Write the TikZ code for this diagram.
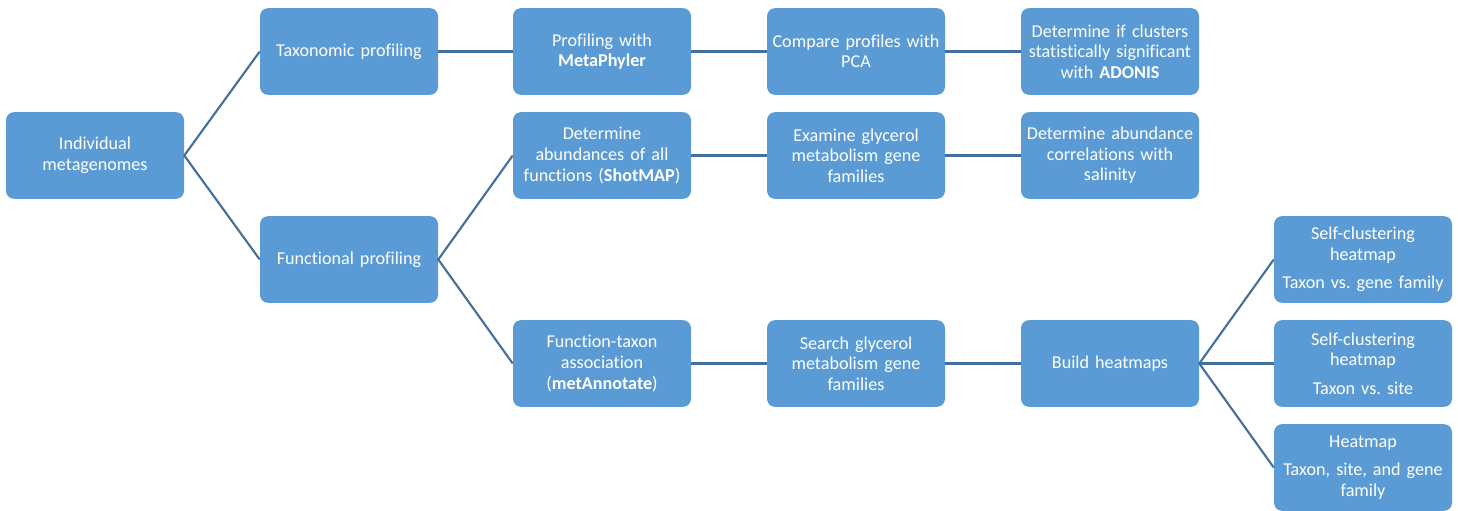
\documentclass[tikz,border=0pt]{standalone}
\usepackage{fontspec}
\setmainfont[Ligatures=NoCommon]{Carlito}
\usepackage{tikz}

\definecolor{boxblue}{HTML}{5B9BD5}
\definecolor{linkblue}{HTML}{41719C}

\begin{document}
\frenchspacing
\begin{tikzpicture}[x=0.75pt,y=-0.75pt,
    stage/.style={draw=none,fill=boxblue,rounded corners=6pt,text=white,
        minimum width=133.5pt,minimum height=65pt,text width=130pt,
        align=center,inner sep=1pt,font=\fontsize{13.6}{15.4}\selectfont},
    link/.style={draw=linkblue,line width=1.6pt}]
    \useasboundingbox (0,0) rectangle (1458,510);
    % first two columns
    \node[stage] (meta) at (95,155.5) {Individual\\metagenomes};
    \node[stage] (taxo) at (349,51.5) {Taxonomic profiling};
    \node[stage] (func) at (349,259.5) {Functional profiling};
    % taxonomic branch
    \node[stage] (phyl) at (602,51.5) {Profiling with\\\textbf{MetaPhyler}};
    \node[stage] (pca) at (856,51.5) {Compare profiles with\\PCA};
    \node[stage] (adon) at (1110,51.5) {Determine if clusters\\statistically significant\\with \textbf{ADONIS}};
    % functional branch
    \node[stage] (shot) at (602,155.5) {Determine\\abundances of all\\functions (\textbf{ShotMAP})};
    \node[stage] (glyc) at (856,155.5) {Examine glycerol\\metabolism gene\\families};
    \node[stage] (sali) at (1110,155.5) {Determine abundance\\correlations with\\salinity};
    \node[stage] (anno) at (602,363.5) {Function-taxon\\association\\(\textbf{metAnnotate})};
    \node[stage] (srch) at (856,363.5) {Search glycerol\\metabolism gene\\families};
    \node[stage] (heat) at (1110,363.5) {Build heatmaps};
    % heatmaps
    \node[stage] (hmA) at (1363,259.5) {Self-clustering\\heatmap\\[6pt]Taxon vs. gene family};
    \node[stage] (hmB) at (1363,363.5) {Self-clustering\\heatmap\\[6pt]Taxon vs. site};
    \node[stage] (hmC) at (1363,467.5) {Heatmap\\[6pt]Taxon, site, and gene\\family};

    \draw[link] (taxo.west) -- (meta.east) -- (func.west);
    \draw[link] (shot.west) -- (func.east) -- (anno.west);
    \draw[link] (hmA.west) -- (heat.east) -- (hmC.west);
    \draw[link] (heat.east) -- (hmB.west);
    \draw[link] (taxo) -- (phyl);
    \draw[link] (phyl) -- (pca);
    \draw[link] (pca) -- (adon);
    \draw[link] (shot) -- (glyc);
    \draw[link] (glyc) -- (sali);
    \draw[link] (anno) -- (srch);
    \draw[link] (srch) -- (heat);
\end{tikzpicture}
\end{document}
